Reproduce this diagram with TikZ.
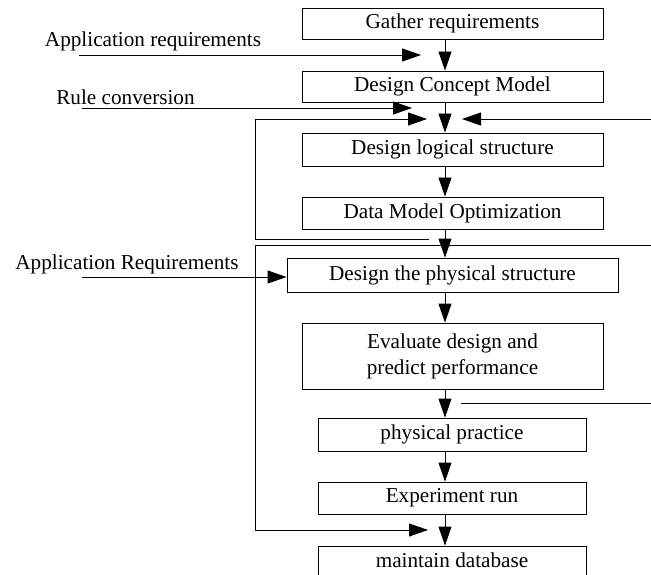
\documentclass[tikz,border=0pt]{standalone}
\usepackage{fontspec}
\setmainfont{Liberation Serif}
\usetikzlibrary{arrows.meta}
\begin{document}
\begin{tikzpicture}[x=1pt,y=-1pt,
  font=\fontsize{21.2}{26}\selectfont,
  box/.style={draw, line width=0.9pt, inner sep=0pt, align=center},
  lbl/.style={inner sep=0pt},
  arr/.style={-{Triangle[length=19pt,width=13pt]}, line width=0.9pt},
  ln/.style={line width=0.9pt}]
\useasboundingbox (0,0) rectangle (651,575);
% boxes
\node[box, minimum width=301pt, minimum height=31pt] (g)   at (452.5,23.5) {Gather requirements};
\node[box, minimum width=301pt, minimum height=31pt] (dcm) at (452.5,86.5) {Design Concept Model};
\node[box, minimum width=301pt, minimum height=33pt] (dls) at (452.5,149.5) {Design logical structure};
\node[box, minimum width=301pt, minimum height=32pt] (dmo) at (452.5,213) {Data Model Optimization};
\node[box, minimum width=331pt, minimum height=34pt] (dps) at (452.5,275) {Design the physical structure};
\node[box, minimum width=301pt, minimum height=66pt] (ev)  at (452.5,356) {Evaluate design and\\predict performance};
\node[box, minimum width=268pt, minimum height=33pt] (pp)  at (452,434.5) {physical practice};
\node[box, minimum width=268pt, minimum height=32pt] (er)  at (452,498) {Experiment run};
\node[box, minimum width=268pt, minimum height=29pt] (md)  at (452,560.5) {maintain database};
% labels
\node[lbl] (l1) at (153,41) {Application requirements};
\node[lbl] (l2) at (125.5,97) {Rule conversion};
\node[lbl] (l3) at (127,264) {Application Requirements};
% axis coordinate
\coordinate (ax) at (445,0);
% main vertical arrows
\draw[arr] (g.south -| ax) -- (dcm.north -| ax);
\draw[arr] (dcm.south -| ax) -- (dls.north -| ax);
\draw[arr] (dls.south -| ax) -- (dmo.north -| ax);
\draw[arr] (dmo.south -| ax) -- (dps.north -| ax);
\draw[arr] (dps.south -| ax) -- (ev.north -| ax);
\draw[arr] (ev.south -| ax) -- (pp.north -| ax);
\draw[arr] (pp.south -| ax) -- (er.north -| ax);
\draw[arr] (er.south -| ax) -- (md.north -| ax);
% inputs
\coordinate (a1s) at (79,55);  \coordinate (a1e) at (421,55);
\draw[arr] (a1s) -- (a1e);
\coordinate (a2s) at (82,108); \coordinate (a2e) at (412,108);
\draw[arr] (a2s) -- (a2e);
\coordinate (a3s) at (82,277);
\draw[arr] (a3s) -- (a3s -| dps.west);
% small feedback bracket
\coordinate (b1a) at (429,239); \coordinate (b1b) at (255,239);
\coordinate (b1c) at (255,119); \coordinate (b1d) at (427,119);
\draw[arr] (b1a) -- (b1b) -- (b1c) -- (b1d);
% right feedback arrow
\coordinate (r1s) at (651,119); \coordinate (r1e) at (462,119);
\draw[arr] (r1s) -- (r1e);
% big bracket
\coordinate (b2a) at (651,245); \coordinate (b2b) at (255,245);
\coordinate (b2c) at (255,530); \coordinate (b2d) at (428,530);
\draw[arr] (b2a) -- (b2b) -- (b2c) -- (b2d);
% right line
\coordinate (r2s) at (461,403); \coordinate (r2e) at (651,403);
\draw[ln] (r2s) -- (r2e);
\end{tikzpicture}
\end{document}
